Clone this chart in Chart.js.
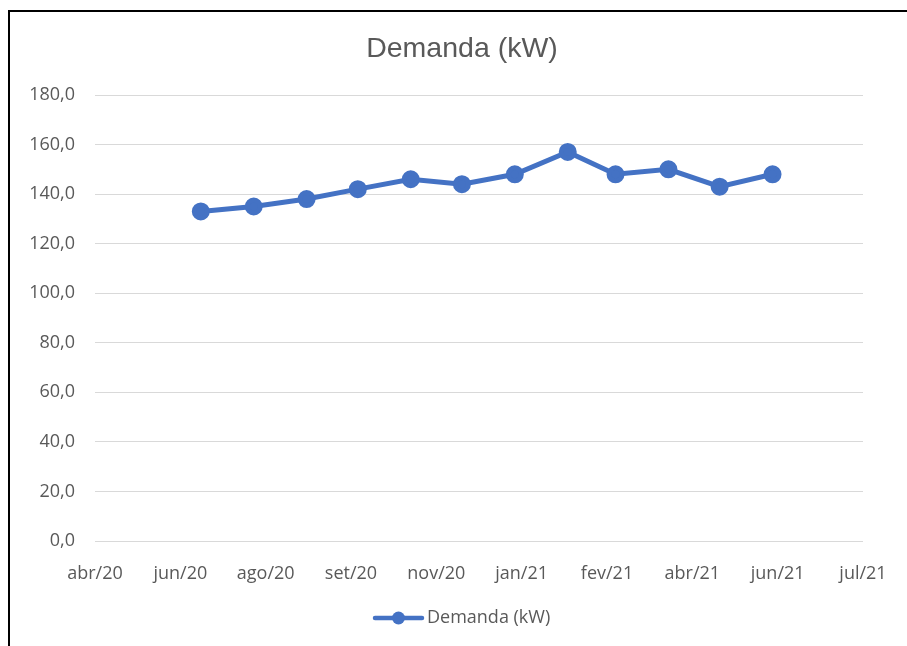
<!DOCTYPE html>
<html>
<head>
<meta charset="utf-8">
<script src="https://cdn.jsdelivr.net/npm/chart.js@4"></script>
<style>
  body { margin: 0; background: #fff; overflow: hidden; }
  #moldura { position: absolute; left: 8px; top: 10px; width: 1000px; height: 1000px;
    border-left: 2px solid #000; border-top: 2px solid #000; }
  #grafico { position: absolute; left: 0; top: 0; }
</style>
</head>
<body>
<div id="moldura"></div>
<canvas id="grafico" width="907" height="646"></canvas>
<script>
// dados
const meses = ["2020-07-01", "2020-08-01", "2020-09-01", "2020-10-01", "2020-11-01", "2020-12-01",
               "2021-01-01", "2021-02-01", "2021-03-01", "2021-04-01", "2021-05-01", "2021-06-01"];
const demanda = [133, 135, 138, 142, 146, 144, 148, 157, 148, 150, 143, 148];
const rotulosX = ["abr/20", "jun/20", "ago/20", "set/20", "nov/20", "jan/21", "fev/21", "abr/21", "jun/21", "jul/21"];
const inicioEixo = "2020-04-30";
const passoDias = 50;

const dia = 86400000;
const t0 = Date.parse(inicioEixo);
let pontos = meses.map((m, i) => ({ x: (Date.parse(m) - t0) / dia, y: demanda[i] }));

const cinza = "#595959";
const azul = "#4472C4";

const extras = {
  id: "extras",
  afterDraw(chart) {
    const ctx = chart.ctx;
    ctx.save();
    ctx.fillStyle = cinza;
    ctx.font = "28.5px 'Liberation Sans'";
    ctx.textAlign = "center";
    ctx.textBaseline = "alphabetic";
    ctx.fillText("Demanda (kW)", 462, 57);

    // legenda
    ctx.strokeStyle = azul;
    ctx.lineWidth = 4.5;
    ctx.lineCap = "round";
    ctx.beginPath();
    ctx.moveTo(375, 618);
    ctx.lineTo(422, 618);
    ctx.stroke();
    ctx.fillStyle = azul;
    ctx.beginPath();
    ctx.arc(398.5, 618, 6.5, 0, Math.PI * 2);
    ctx.fill();
    ctx.fillStyle = cinza;
    ctx.font = "18px 'Open Sans'";
    ctx.textAlign = "left";
    ctx.textBaseline = "middle";
    ctx.fillText("Demanda (kW)", 427, 618);
    ctx.restore();
  }
};

new Chart(document.getElementById("grafico"), {
  type: "line",
  data: {
    datasets: [{
      label: "Demanda (kW)",
      data: pontos,
      borderColor: azul,
      backgroundColor: azul,
      borderWidth: 5,
      pointRadius: 6.5,
      pointHoverRadius: 6.5,
      tension: 0
    }]
  },
  options: {
    responsive: false,
    animation: false,
    layout: { padding: { top: 95, right: 44, left: 0, bottom: 0 } },
    plugins: { legend: { display: false }, title: { display: false }, tooltip: { enabled: false } },
    scales: {
      x: {
        type: "linear",
        min: 0,
        max: passoDias * (rotulosX.length - 1),
        grid: { display: false },
        border: { display: false },
        afterFit(s) { s.height = 105; },
        ticks: {
          stepSize: passoDias,
          autoSkip: false,
          maxRotation: 0,
          padding: 14,
          color: cinza,
          font: { family: "Open Sans", size: 18 },
          callback: (v, i) => rotulosX[i]
        }
      },
      y: {
        min: 0,
        max: 180,
        grid: { color: "#d9d9d9", lineWidth: 1, drawTicks: false },
        border: { display: false },
        afterFit(s) { s.width = 95; },
        ticks: {
          stepSize: 20,
          padding: 20,
          color: cinza,
          font: { family: "Open Sans", size: 18 },
          callback: v => v.toFixed(1).replace(".", ",")
        }
      }
    }
  },
  plugins: [extras]
});
</script>
</body>
</html>
